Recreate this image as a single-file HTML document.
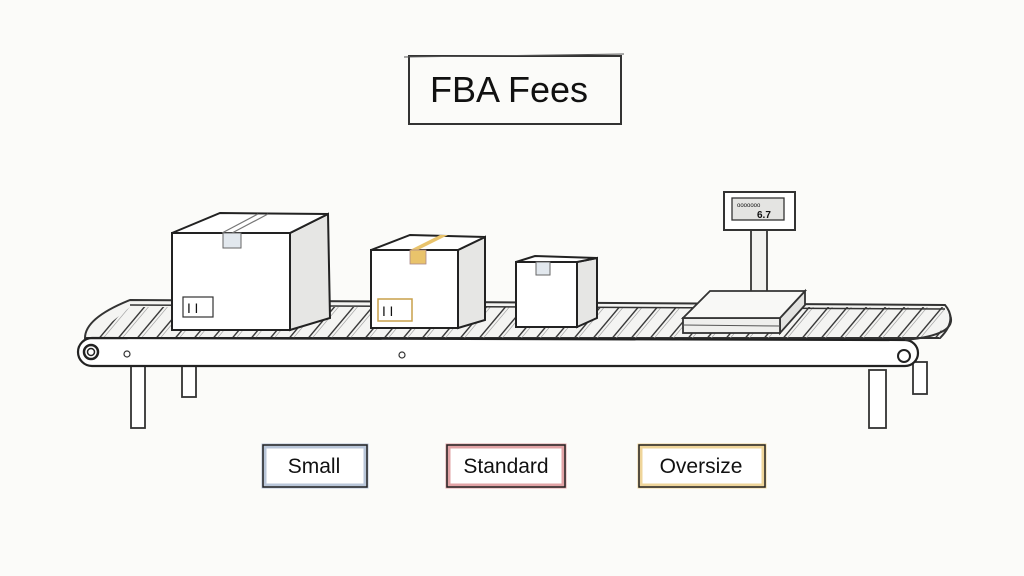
<!DOCTYPE html>
<html><head><meta charset="utf-8"><style>
html,body{margin:0;padding:0;background:#fbfbf9;}
svg{display:block;}
text{font-family:"Liberation Sans",sans-serif;fill:#111;}
</style></head><body>
<svg width="1024" height="576" viewBox="0 0 1024 576">
<defs>
<pattern id="sl" width="19" height="60" patternUnits="userSpaceOnUse" patternTransform="skewX(-40)">
<line x1="3" y1="0" x2="3" y2="60" stroke="#333" stroke-width="1.8"/>
<line x1="7" y1="0" x2="7" y2="60" stroke="#999" stroke-width="0.8"/>
</pattern>
</defs>
<rect width="1024" height="576" fill="#fbfbf9"/>
<!-- title -->
<rect x="409" y="56" width="212" height="68" fill="none" stroke="#333" stroke-width="2"/>
<line x1="404" y1="57" x2="624" y2="54" stroke="#555" stroke-width="1"/>
<text x="509" y="102" font-size="36" text-anchor="middle">FBA Fees</text>

<!-- legs -->
<g fill="#fff" stroke="#333" stroke-width="1.8">
<rect x="131" y="366" width="14" height="62"/>
<rect x="182" y="366" width="14" height="31"/>
<rect x="869" y="370" width="17" height="58"/>
<rect x="913" y="362" width="14" height="32"/>
</g>
<!-- belt top surface -->
<path d="M130,300 L945,305 Q958,320 940,338 L85,338 Q85,318 130,300 Z" fill="#f4f4f2" stroke="#333" stroke-width="2"/>
<path d="M92,338 L940,338 L945,307 L130,307 Z" fill="url(#sl)"/>
<line x1="130" y1="305" x2="945" y2="309" stroke="#333" stroke-width="1.5"/>
<!-- front band -->
<path d="M92,338 L905,340 A13,13 0 0 1 905,366 L92,366 A14,14 0 0 1 92,338 Z" fill="#fff" stroke="#222" stroke-width="2.2"/>
<path d="M905,340 Q958,335 950,315" fill="none" stroke="#333" stroke-width="2"/>
<circle cx="91" cy="352" r="7" fill="#fff" stroke="#222" stroke-width="2.5"/>
<circle cx="91" cy="352" r="3.5" fill="none" stroke="#222" stroke-width="1.5"/>
<circle cx="904" cy="356" r="6" fill="#fff" stroke="#222" stroke-width="2"/>
<circle cx="127" cy="354" r="3" fill="none" stroke="#333" stroke-width="1.2"/>
<circle cx="402" cy="355" r="3" fill="none" stroke="#333" stroke-width="1.2"/>

<!-- box1 -->
<g stroke="#222" stroke-width="2" fill="#fff">
<path d="M290,233 L328,214 L330,318 L290,330 Z" fill="#e6e6e4"/>
<path d="M172,233 L220,213 L328,214 L290,233 Z"/>
<rect x="172" y="233" width="118" height="97"/>
</g>
<path d="M222,233 L258,214 M232,233 L268,214" stroke="#777" stroke-width="1.2"/>
<rect x="223" y="233" width="18" height="15" fill="#e2e8ee" stroke="#666" stroke-width="1"/>
<rect x="183" y="297" width="30" height="20" fill="#fff" stroke="#333" stroke-width="1.2"/>
<text x="187" y="313" font-size="13">Ⅰ Ⅰ</text>
<!-- box2 -->
<g stroke="#222" stroke-width="2" fill="#fff">
<path d="M458,250 L485,237 L485,320 L458,328 Z" fill="#e6e6e4"/>
<path d="M371,250 L410,235 L485,237 L458,250 Z"/>
<rect x="371" y="250" width="87" height="78"/>
</g>
<path d="M410,250 L440,235 L448,235 L418,250 Z" fill="#e9c36b"/>
<rect x="410" y="250" width="16" height="14" fill="#e9c36b" stroke="#a88" stroke-width="0.8"/>
<rect x="378" y="299" width="34" height="22" fill="#fff" stroke="#c9a04a" stroke-width="1.5"/>
<text x="382" y="316" font-size="13">Ⅰ Ⅰ</text>
<!-- box3 -->
<g stroke="#222" stroke-width="2" fill="#fff">
<path d="M577,262 L597,258 L597,318 L577,327 Z" fill="#e6e6e4"/>
<path d="M516,262 L535,256 L597,258 L577,262 Z"/>
<rect x="516" y="262" width="61" height="65"/>
</g>
<rect x="536" y="262" width="14" height="13" fill="#e2e8ee" stroke="#666" stroke-width="1"/>

<!-- scale -->
<rect x="751" y="228" width="16" height="64" fill="#f2f2f0" stroke="#333" stroke-width="1.8"/>
<rect x="724" y="192" width="71" height="38" fill="#fff" stroke="#333" stroke-width="2"/>
<rect x="732" y="198" width="52" height="22" fill="#e4e4e2" stroke="#333" stroke-width="1.3"/>
<text x="737" y="207" font-size="6">ooooooo</text>
<text x="757" y="218" font-size="10" font-weight="bold">6.7</text>
<g stroke="#333" stroke-width="1.8">
<path d="M780,318 L805,291 L805,305 L780,333 Z" fill="#e2e2e0"/>
<rect x="683" y="318" width="97" height="15" fill="#efefed"/>
<path d="M683,318 L710,291 L805,291 L780,318 Z" fill="#f8f8f6"/>
</g>
<line x1="683" y1="325" x2="780" y2="326" stroke="#555" stroke-width="1"/>

<!-- labels -->
<rect x="264" y="446" width="102" height="40" fill="#fff" stroke="#b9c6d9" stroke-width="5"/>
<rect x="263" y="445" width="104" height="42" fill="none" stroke="#222" stroke-width="1.5"/>
<text x="314" y="473" font-size="21" text-anchor="middle">Small</text>
<rect x="448" y="446" width="116" height="40" fill="#fff" stroke="#e2a3a6" stroke-width="5"/>
<rect x="447" y="445" width="118" height="42" fill="none" stroke="#222" stroke-width="1.5"/>
<text x="506" y="473" font-size="21" text-anchor="middle">Standard</text>
<rect x="640" y="446" width="124" height="40" fill="#fff" stroke="#efd59a" stroke-width="5"/>
<rect x="639" y="445" width="126" height="42" fill="none" stroke="#222" stroke-width="1.5"/>
<text x="701" y="473" font-size="21" text-anchor="middle">Oversize</text>
</svg>
</body></html>
